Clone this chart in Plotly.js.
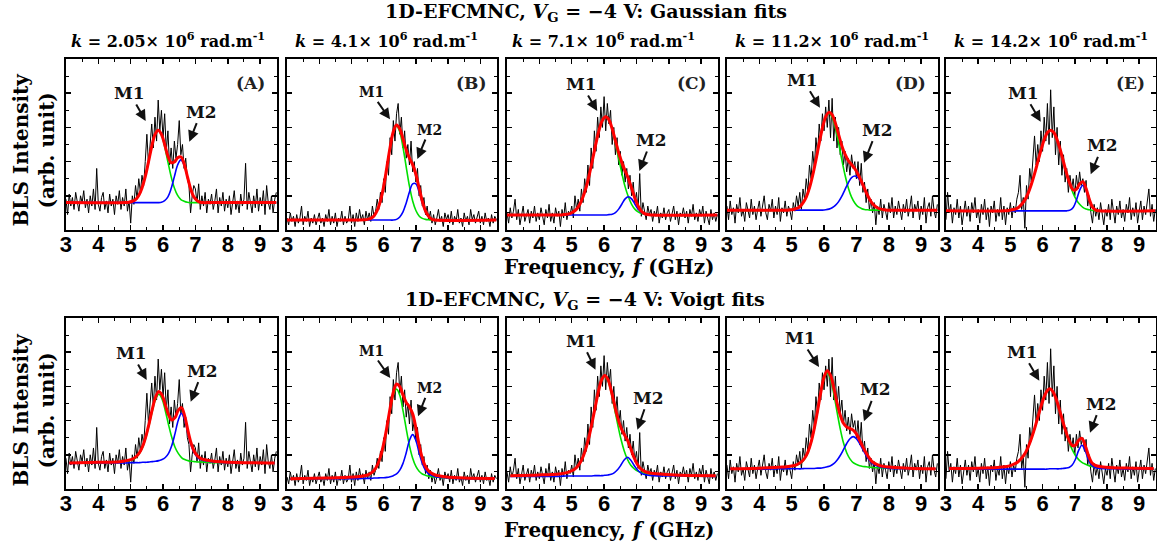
<!DOCTYPE html>
<html>
<head>
<meta charset="utf-8">
<script src="https://cdn.plot.ly/plotly-3.0.1.min.js"></script>
<style>html,body{margin:0;padding:0;background:#fff;}#chart{width:1157px;height:546px;}</style>
</head>
<body>
<div id="chart"></div>
<script>
// ---------------- DATA ----------------
const FREQ = [3,3.05,3.1,3.15,3.2,3.25,3.3,3.35,3.4,3.45,3.5,3.55,3.6,3.65,3.7,3.75,3.8,3.85,3.9,3.95,
4,4.05,4.1,4.15,4.2,4.25,4.3,4.35,4.4,4.45,4.5,4.55,4.6,4.65,4.7,4.75,4.8,4.85,4.9,4.95,
5,5.05,5.1,5.15,5.2,5.25,5.3,5.35,5.4,5.45,5.5,5.55,5.6,5.65,5.7,5.75,5.8,5.85,5.9,5.95,
6,6.05,6.1,6.15,6.2,6.25,6.3,6.35,6.4,6.45,6.5,6.55,6.6,6.65,6.7,6.75,6.8,6.85,6.9,6.95,
7,7.05,7.1,7.15,7.2,7.25,7.3,7.35,7.4,7.45,7.5,7.55,7.6,7.65,7.7,7.75,7.8,7.85,7.9,7.95,
8,8.05,8.1,8.15,8.2,8.25,8.3,8.35,8.4,8.45,8.5,8.55,8.6,8.65,8.7,8.75,8.8,8.85,8.9,8.95,
9,9.05,9.1,9.15,9.2,9.25,9.3,9.35,9.4,9.45,9.5];

const BLS_A = [0.9,0.45,1.05,0.7,0.95,0.6,1.1,0.75,0.55,1.0,0.8,1.15,0.65,0.9,0.5,1.0,0.7,1.2,0.6,1.8,
0.75,0.55,0.95,1.1,0.6,0.85,0.5,1.05,0.7,0.9,0.45,1.0,0.75,1.15,0.6,0.95,0.7,1.2,0.55,0.85,
0.2,1.0,0.75,1.3,0.9,1.5,1.1,1.6,1.3,2.0,
2.8,1.9,2.6,3.1,2.4,3.3,2.6,3.8,2.9,3.5,
2.7,3.4,2.3,2.9,1.9,2.4,1.8,2.6,2.1,2.5,
3.2,2.2,2.5,1.8,2.1,1.5,1.3,0.5,1.0,1.3,
1.2,0.8,1.35,0.6,1.0,0.7,1.1,0.5,0.9,0.75,
1.05,0.6,0.85,1.2,0.5,0.95,0.7,1.1,0.55,0.9,
0.65,1.0,0.45,0.9,1.15,0.6,0.85,0.5,1.05,0.7,
0.9,1.95,0.6,1.1,0.75,0.5,1.0,0.65,1.2,0.55,
0.95,0.7,1.15,0.45,1.3,0.8,0.6,1.0,0.5,0.9,1.1];

const BLS_B = [0.35,0.15,0.5,0.25,0.4,0.1,0.45,0.2,0.35,0.7,0.15,0.4,0.25,0.55,0.1,0.35,0.2,0.45,0.15,0.3,
0.5,0.2,0.35,0.1,0.45,0.25,0.6,0.15,0.4,0.2,0.5,0.1,0.35,0.25,0.55,0.15,0.4,0.2,0.3,0.7,
0.2,0.45,0.1,0.5,0.25,0.6,0.3,0.45,0.15,0.55,
0.3,0.5,0.25,0.7,0.4,0.55,0.9,0.6,1.1,0.8,
1.5,1.1,2.0,1.6,2.7,2.2,3.2,2.6,3.4,3.7,
2.8,3.3,2.4,2.9,2.1,2.5,1.9,2.6,1.7,2.0,
1.4,1.8,1.0,1.3,0.7,0.95,0.45,0.7,0.3,0.55,
0.2,0.45,0.15,0.35,0.6,0.25,0.4,0.1,0.5,0.3,
0.45,0.2,0.55,0.15,0.4,0.25,0.6,0.2,0.35,0.1,
0.5,0.25,0.4,0.15,0.6,0.3,0.45,0.2,0.35,0.55,
0.2,0.4,0.15,0.5,0.25,0.35,0.1,0.45,0.2,0.4,0.3];

const BLS_C = [0.5,0.2,0.65,0.35,0.55,0.9,0.3,0.6,0.15,0.5,0.7,0.25,0.45,0.6,0.2,0.55,0.35,0.7,0.25,0.5,
0.3,0.65,0.4,0.15,0.6,0.35,0.75,0.25,0.5,0.2,0.65,0.4,0.55,0.1,0.6,0.35,0.8,0.3,0.55,0.45,
0.7,0.35,1.0,0.6,0.9,0.55,1.2,0.8,1.5,1.1,
1.9,1.3,2.4,1.8,2.9,2.3,3.3,2.7,3.6,3.0,
3.9,2.9,3.7,3.1,3.5,2.5,3.0,2.2,2.7,1.9,
2.3,1.6,2.0,1.4,1.8,1.2,1.6,1.0,1.4,0.8,
1.1,0.6,1.65,0.4,0.8,0.5,0.3,0.7,0.45,0.6,
0.25,0.55,0.4,0.7,0.2,0.5,0.35,0.65,0.3,0.5,
0.6,0.25,0.45,0.7,0.3,0.55,0.15,0.5,0.4,0.65,
0.35,0.55,0.2,0.6,0.4,0.75,0.3,0.5,0.25,0.6,
0.4,0.7,0.2,0.55,0.35,0.15,0.6,0.3,0.5,0.25,0.45];

const BLS_D = [0.7,0.3,0.85,0.45,0.65,0.2,0.75,0.5,0.95,0.4,0.6,0.25,0.8,0.55,0.35,0.9,0.45,0.7,0.3,0.6,
0.85,0.4,0.65,1.0,0.5,0.3,0.75,0.55,0.9,0.35,0.7,0.45,0.95,0.25,0.65,0.5,0.85,0.4,0.7,0.55,
0.3,0.8,0.55,1.0,0.7,1.1,0.6,1.2,0.9,1.5,
1.1,1.9,1.5,2.3,1.8,2.7,2.2,3.1,2.6,3.4,
2.9,3.6,3.0,3.8,2.7,3.85,2.6,3.3,2.4,3.0,
2.2,2.6,1.9,2.3,1.7,2.1,1.6,2.2,1.8,2.0,
1.5,2.0,1.3,1.95,1.1,1.4,0.8,1.2,0.6,0.9,
0.5,0.8,0.15,0.7,0.45,0.9,0.35,0.75,0.55,0.3,
0.8,0.5,0.95,0.35,0.7,0.45,0.85,0.6,0.3,0.75,
0.5,0.9,0.4,0.65,1.0,0.35,0.75,0.55,0.85,0.3,
0.7,0.45,0.95,0.2,0.65,0.8,0.4,1.0,0.55,0.35,0.75];

const BLS_E = [0.3,1.1,0.5,0.75,0.2,0.65,0.45,0.9,0.35,0.7,0.15,0.6,0.85,0.4,0.7,0.25,0.8,0.5,0.95,0.35,
0.6,0.2,0.75,0.45,0.9,0.3,0.65,0.1,0.7,0.5,0.85,0.25,0.6,0.4,0.95,0.3,0.7,0.15,0.65,0.45,
0.8,0.35,0.7,0.5,0.9,1.1,1.6,0.6,0.95,0.05,
1.3,0.9,1.8,1.4,2.2,2.75,1.9,2.5,2.0,2.9,
2.3,3.3,2.6,3.7,2.5,4.1,2.7,3.6,2.2,3.0,
1.9,2.6,1.6,2.2,1.4,1.8,1.1,1.6,1.2,1.5,
1.0,1.6,1.2,1.7,1.3,1.5,1.1,1.45,0.7,1.0,
0.5,0.2,0.75,0.4,0.65,0.3,0.8,0.5,0.15,0.6,
0.4,0.75,0.3,0.9,0.5,0.2,0.7,0.45,0.85,0.35,
0.6,0.25,0.75,0.5,0.95,0.3,0.65,0.4,0.8,0.2,
0.55,0.85,0.3,0.7,0.45,0.9,1.2,0.4,0.75,0.25,0.6];

// Gaussian fits (top row)
const GA_X   = [3.0,4.85,4.95,5.05,5.15,5.25,5.35,5.45,5.55,5.65,5.75,5.85,5.95,6.05,6.15,6.25,6.35,6.45,6.55,6.65,6.75,6.85,6.95,7.05,7.15,7.25,7.35,9.5];
const GA_M1  = [0.80,0.80,0.81,0.84,0.89,1.01,1.23,1.56,1.99,2.44,2.79,2.92,2.79,2.44,1.99,1.56,1.23,1.01,0.89,0.84,0.81,0.80,0.80,0.80,0.80,0.80,0.80,0.80];
const GA_M2  = [0.80,0.80,0.80,0.80,0.80,0.80,0.80,0.80,0.80,0.80,0.80,0.80,0.81,0.86,0.97,1.21,1.56,1.90,2.05,1.90,1.56,1.21,0.97,0.86,0.81,0.80,0.80,0.80];
const GA_FIT = [0.80,0.80,0.81,0.84,0.89,1.01,1.23,1.56,1.99,2.44,2.79,2.92,2.80,2.50,2.16,1.97,1.99,2.11,2.14,1.94,1.57,1.21,0.97,0.86,0.81,0.80,0.80,0.80];

const GB_X   = [3.0,5.4,5.5,5.6,5.7,5.8,5.9,6.0,6.1,6.2,6.3,6.4,6.5,6.6,6.7,6.8,6.9,7.0,7.1,7.2,7.3,7.4,7.5,7.6,9.5];
const GB_M1  = [0.29,0.30,0.31,0.34,0.41,0.57,0.85,1.28,1.84,2.42,2.87,3.04,2.87,2.42,1.84,1.28,0.85,0.57,0.41,0.34,0.31,0.30,0.29,0.29,0.29];
const GB_M2  = [0.29,0.29,0.29,0.29,0.29,0.29,0.29,0.29,0.29,0.29,0.29,0.31,0.38,0.53,0.79,1.11,1.35,1.35,1.11,0.79,0.53,0.38,0.31,0.29,0.29];
const GB_FIT = [0.29,0.30,0.31,0.34,0.41,0.57,0.85,1.28,1.84,2.42,2.88,3.07,2.96,2.66,2.34,2.10,1.91,1.63,1.23,0.84,0.55,0.39,0.31,0.29,0.29];

const GC_X   = [3.0,4.65,4.75,4.85,4.95,5.05,5.15,5.25,5.35,5.45,5.55,5.65,5.75,5.85,5.95,6.05,6.15,6.25,6.35,6.45,6.55,6.65,6.75,6.85,6.95,7.05,7.15,7.25,7.35,7.45,9.5];
const GC_M1  = [0.44,0.44,0.45,0.46,0.48,0.53,0.61,0.75,0.97,1.26,1.65,2.09,2.54,2.94,3.21,3.31,3.21,2.94,2.54,2.09,1.65,1.26,0.97,0.75,0.61,0.53,0.48,0.46,0.45,0.44,0.44];
const GC_M2  = [0.44,0.44,0.44,0.44,0.44,0.44,0.44,0.44,0.44,0.44,0.44,0.44,0.44,0.44,0.44,0.44,0.45,0.46,0.51,0.61,0.76,0.91,0.97,0.91,0.76,0.61,0.51,0.46,0.45,0.44,0.44];
const GC_FIT = [0.44,0.44,0.45,0.46,0.48,0.53,0.61,0.75,0.97,1.26,1.65,2.09,2.54,2.94,3.21,3.31,3.22,2.96,2.61,2.26,1.97,1.73,1.50,1.22,0.93,0.70,0.55,0.48,0.45,0.44,0.44];

const GD_X   = [3.0,4.85,4.95,5.05,5.15,5.25,5.35,5.45,5.55,5.65,5.75,5.85,5.95,6.05,6.15,6.25,6.35,6.45,6.55,6.65,6.75,6.85,6.95,7.05,7.15,7.25,7.35,7.45,7.55,7.65,7.75,7.85,7.95,9.5];
const GD_M1  = [0.58,0.58,0.59,0.60,0.63,0.68,0.79,0.96,1.23,1.60,2.05,2.54,2.98,3.30,3.41,3.30,2.98,2.54,2.05,1.60,1.23,0.96,0.79,0.68,0.63,0.60,0.59,0.58,0.58,0.58,0.58,0.58,0.58,0.58];
const GD_M2  = [0.58,0.58,0.58,0.58,0.58,0.58,0.58,0.58,0.58,0.58,0.58,0.58,0.58,0.59,0.61,0.65,0.72,0.83,0.99,1.19,1.38,1.53,1.58,1.53,1.38,1.19,0.99,0.83,0.72,0.65,0.61,0.59,0.58,0.58];
const GD_FIT = [0.58,0.58,0.59,0.60,0.63,0.68,0.79,0.96,1.23,1.60,2.05,2.54,2.98,3.31,3.44,3.37,3.12,2.79,2.46,2.21,2.03,1.91,1.79,1.63,1.43,1.21,1.00,0.83,0.72,0.65,0.61,0.59,0.58,0.58];

const GE_X   = [3.0,4.85,4.95,5.05,5.15,5.25,5.35,5.45,5.55,5.65,5.75,5.85,5.95,6.05,6.15,6.25,6.35,6.45,6.55,6.65,6.75,6.85,6.95,7.05,7.15,7.25,7.35,7.45,7.55,7.65,7.75,9.5];
const GE_M1  = [0.56,0.56,0.57,0.59,0.61,0.66,0.75,0.88,1.07,1.33,1.64,1.99,2.34,2.64,2.85,2.92,2.85,2.64,2.34,1.99,1.64,1.33,1.07,0.88,0.75,0.66,0.61,0.59,0.57,0.56,0.56,0.56];
const GE_M2  = [0.56,0.56,0.56,0.56,0.56,0.56,0.56,0.56,0.56,0.56,0.56,0.56,0.56,0.56,0.56,0.56,0.56,0.56,0.56,0.56,0.56,0.58,0.66,0.87,1.16,1.31,1.16,0.87,0.66,0.58,0.56,0.56];
const GE_FIT = [0.56,0.56,0.57,0.59,0.61,0.66,0.75,0.88,1.07,1.33,1.64,1.99,2.34,2.64,2.85,2.92,2.85,2.64,2.34,1.99,1.64,1.35,1.17,1.19,1.35,1.41,1.21,0.90,0.67,0.58,0.56,0.56];

// Voigt fits (bottom row)
const VA_X   = [3.1,4.0,4.67,4.87,5.07,5.17,5.27,5.37,5.47,5.57,5.67,5.77,5.87,5.97,6.07,6.17,6.27,6.37,6.47,6.57,6.67,6.77,6.87,6.97,7.07,7.17,7.37,7.57,7.87,8.5,9.45];
const VA_M1  = [0.76,0.77,0.79,0.81,0.86,0.92,1.04,1.22,1.51,1.88,2.29,2.63,2.77,2.63,2.29,1.88,1.51,1.22,1.04,0.92,0.86,0.83,0.81,0.80,0.79,0.79,0.78,0.77,0.77,0.76,0.76];
const VA_M2  = [0.75,0.76,0.76,0.76,0.77,0.77,0.77,0.78,0.78,0.79,0.80,0.81,0.83,0.86,0.92,1.04,1.27,1.62,2.01,2.21,2.01,1.62,1.27,1.04,0.92,0.86,0.81,0.79,0.77,0.76,0.76];
const VA_FIT = [0.76,0.78,0.80,0.83,0.88,0.95,1.06,1.25,1.54,1.92,2.34,2.69,2.85,2.74,2.46,2.17,2.02,2.09,2.30,2.38,2.13,1.70,1.33,1.09,0.96,0.89,0.84,0.81,0.79,0.77,0.76];

const VB_X   = [3.1,4.2,4.9,5.2,5.4,5.5,5.6,5.7,5.8,5.9,6.0,6.1,6.2,6.3,6.4,6.5,6.6,6.7,6.8,6.9,7.0,7.1,7.2,7.3,7.4,7.6,7.9,8.5,9.45];
const VB_M1  = [0.30,0.31,0.33,0.35,0.37,0.40,0.44,0.52,0.66,0.90,1.27,1.76,2.29,2.74,2.92,2.74,2.29,1.76,1.27,0.90,0.66,0.52,0.44,0.40,0.37,0.35,0.33,0.31,0.30];
const VB_M2  = [0.29,0.30,0.30,0.30,0.31,0.31,0.31,0.32,0.32,0.33,0.33,0.34,0.36,0.39,0.44,0.55,0.75,1.06,1.42,1.59,1.42,1.06,0.75,0.55,0.44,0.36,0.33,0.30,0.30];
const VB_FIT = [0.30,0.32,0.34,0.36,0.39,0.41,0.46,0.54,0.69,0.94,1.32,1.81,2.36,2.83,3.07,2.99,2.75,2.53,2.40,2.20,1.79,1.29,0.90,0.65,0.52,0.41,0.36,0.32,0.31];

const VC_X   = [3.1,4.0,4.62,4.82,5.02,5.12,5.22,5.32,5.42,5.52,5.62,5.72,5.82,5.92,6.02,6.12,6.22,6.32,6.42,6.52,6.62,6.72,6.82,6.92,7.02,7.12,7.22,7.32,7.52,7.82,8.4,9.45];
const VC_M1  = [0.39,0.41,0.44,0.47,0.53,0.60,0.70,0.87,1.12,1.46,1.89,2.36,2.81,3.16,3.29,3.16,2.81,2.36,1.89,1.46,1.12,0.87,0.70,0.60,0.53,0.49,0.47,0.45,0.43,0.42,0.40,0.38];
const VC_M2  = [0.37,0.37,0.37,0.38,0.38,0.38,0.38,0.38,0.38,0.38,0.38,0.39,0.39,0.39,0.40,0.41,0.43,0.48,0.57,0.70,0.85,0.93,0.85,0.70,0.57,0.48,0.43,0.41,0.39,0.38,0.38,0.37];
const VC_FIT = [0.39,0.41,0.44,0.47,0.54,0.60,0.71,0.88,1.13,1.47,1.90,2.37,2.83,3.18,3.32,3.20,2.88,2.47,2.08,1.79,1.60,1.43,1.19,0.93,0.73,0.60,0.53,0.49,0.45,0.43,0.40,0.39];

const VD_X   = [3.1,4.0,4.7,4.9,5.1,5.2,5.3,5.4,5.5,5.6,5.7,5.8,5.9,6.0,6.1,6.2,6.3,6.4,6.5,6.6,6.7,6.8,6.9,7.0,7.1,7.2,7.3,7.4,7.5,7.7,8.0,8.6,9.45];
const VD_M1  = [0.59,0.60,0.63,0.65,0.68,0.72,0.77,0.88,1.06,1.35,1.76,2.26,2.79,3.22,3.39,3.22,2.79,2.26,1.76,1.35,1.06,0.88,0.77,0.72,0.68,0.66,0.65,0.64,0.63,0.62,0.61,0.60,0.59];
const VD_M2  = [0.58,0.58,0.59,0.59,0.59,0.59,0.59,0.60,0.60,0.60,0.60,0.61,0.61,0.63,0.65,0.68,0.74,0.84,0.98,1.15,1.33,1.47,1.53,1.47,1.33,1.15,0.98,0.84,0.74,0.65,0.61,0.59,0.59];
const VD_FIT = [0.59,0.61,0.64,0.66,0.69,0.73,0.79,0.90,1.08,1.37,1.78,2.29,2.83,3.27,3.46,3.32,2.96,2.52,2.16,1.92,1.81,1.77,1.72,1.61,1.43,1.23,1.05,0.90,0.79,0.69,0.64,0.61,0.59];

const VE_X   = [3.1,4.0,4.6,4.82,5.02,5.22,5.32,5.42,5.52,5.62,5.72,5.82,5.92,6.02,6.12,6.22,6.32,6.42,6.52,6.62,6.72,6.82,6.92,7.02,7.12,7.22,7.32,7.42,7.52,7.62,7.82,8.2,8.8,9.45];
const VE_M1  = [0.60,0.61,0.63,0.65,0.69,0.78,0.86,0.98,1.15,1.38,1.66,1.98,2.32,2.62,2.84,2.92,2.84,2.62,2.32,1.98,1.66,1.38,1.15,0.98,0.86,0.78,0.73,0.69,0.66,0.65,0.64,0.62,0.60,0.60];
const VE_M2  = [0.58,0.58,0.58,0.58,0.58,0.58,0.58,0.58,0.58,0.58,0.58,0.58,0.58,0.58,0.58,0.59,0.59,0.59,0.59,0.60,0.61,0.63,0.70,0.87,1.13,1.28,1.13,0.87,0.70,0.63,0.60,0.59,0.58,0.58];
const VE_FIT = [0.60,0.61,0.63,0.65,0.69,0.78,0.87,0.99,1.16,1.39,1.67,1.99,2.32,2.62,2.84,2.93,2.85,2.63,2.33,2.00,1.69,1.43,1.27,1.28,1.42,1.48,1.28,0.99,0.78,0.70,0.65,0.62,0.61,0.60];

const K_VALUES = ['2.05','4.1','7.1','11.2','14.2'];
const PANEL_TAGS = ['(A)','(B)','(C)','(D)','(E)'];
const X_TICKS = [3,4,5,6,7,8,9];

// ---------------- BUILD ----------------
const SPECTRA = [BLS_A, BLS_B, BLS_C, BLS_D, BLS_E];
const FITS = [
  [GA_X,GA_M1,GA_M2,GA_FIT],[GB_X,GB_M1,GB_M2,GB_FIT],[GC_X,GC_M1,GC_M2,GC_FIT],[GD_X,GD_M1,GD_M2,GD_FIT],[GE_X,GE_M1,GE_M2,GE_FIT],
  [VA_X,VA_M1,VA_M2,VA_FIT],[VB_X,VB_M1,VB_M2,VB_FIT],[VC_X,VC_M1,VC_M2,VC_FIT],[VD_X,VD_M1,VD_M2,VD_FIT],[VE_X,VE_M1,VE_M2,VE_FIT]
];

const XDOM = [[0.0570,0.2394],[0.2481,0.4296],[0.4382,0.6206],[0.6283,0.8107],[0.8176,0.9991]];
const YDOM = [[0.5788,0.8919],[0.1044,0.4176]];
const SERIF = 'DejaVu Serif, Liberation Serif, serif';
const SANS = 'Liberation Sans, Arial, sans-serif';

const traces = [];
const layout = {
  width: 1157, height: 546,
  margin: {l:0, r:0, t:0, b:0},
  paper_bgcolor: '#fff', plot_bgcolor: '#fff',
  showlegend: false,
  annotations: []
};

for (let p = 0; p < 10; p++) {
  const row = p < 5 ? 0 : 1;
  const col = p % 5;
  const n = p + 1;
  const xa = 'x' + (n === 1 ? '' : n), ya = 'y' + (n === 1 ? '' : n);
  const xkey = 'xaxis' + (n === 1 ? '' : n), ykey = 'yaxis' + (n === 1 ? '' : n);
  layout[xkey] = {
    domain: XDOM[col], anchor: ya, range: [3, 9.52],
    tickmode: 'array', tickvals: X_TICKS, ticks: 'inside', ticklen: 5, tickwidth: 1.5, tickcolor: '#000',
    minor: {tickmode: 'linear', tick0: 3, dtick: 0.5, ticks: 'inside', ticklen: 3, tickwidth: 1, tickcolor: '#000'},
    mirror: 'allticks', showline: true, linewidth: 2, linecolor: '#000',
    showgrid: false, zeroline: false, ticklabelstandoff: -6,
    tickfont: {family: SANS, size: 22, color: '#000', weight: 700}
  };
  layout[ykey] = {
    domain: YDOM[row], anchor: xa, range: [0, 5],
    tickmode: 'linear', tick0: 0, dtick: 1, ticks: 'inside', ticklen: 5, tickwidth: 1.5, tickcolor: '#000',
    minor: {tickmode: 'linear', tick0: 0, dtick: 0.5, ticks: 'inside', ticklen: 3, tickwidth: 1, tickcolor: '#000'},
    mirror: 'allticks', showline: true, linewidth: 2, linecolor: '#000',
    showgrid: false, zeroline: false, showticklabels: false
  };
  const f = FITS[p];
  traces.push({x: FREQ, y: SPECTRA[col], xaxis: xa, yaxis: ya, mode: 'lines', line: {color: '#000', width: 1}, hoverinfo: 'skip'});
  traces.push({x: f[0], y: f[1], xaxis: xa, yaxis: ya, mode: 'lines', line: {color: '#00e000', width: 1.6, shape: 'spline'}, hoverinfo: 'skip'});
  traces.push({x: f[0], y: f[2], xaxis: xa, yaxis: ya, mode: 'lines', line: {color: '#0000ff', width: 1.6, shape: 'spline'}, hoverinfo: 'skip'});
  traces.push({x: f[0], y: f[3], xaxis: xa, yaxis: ya, mode: 'lines', line: {color: '#ff0000', width: 3, shape: 'spline'}, hoverinfo: 'skip'});

  if (row === 0) {
    layout.annotations.push({
      xref: xa + ' domain', yref: ya + ' domain', x: 0.955, y: 0.857, xanchor: 'right', yanchor: 'middle',
      text: '<b>' + PANEL_TAGS[col] + '</b>', showarrow: false, font: {family: SERIF, size: 17, color: '#222'}
    });
  }
}

// panel-level text
const ann = layout.annotations;
const titleFont = {family: SERIF, size: 19, color: '#000'};
ann.push({xref:'paper', yref:'paper', x:0.5065, y:0.978, xanchor:'center', yanchor:'middle', showarrow:false,
  text:'<b>1D-EFCMNC, <i>V</i><sub>G</sub> = −4 V: Gaussian fits</b>', font:titleFont});
ann.push({xref:'paper', yref:'paper', x:0.5055, y:0.4505, xanchor:'center', yanchor:'middle', showarrow:false,
  text:'<b>1D-EFCMNC, <i>V</i><sub>G</sub> = −4 V: Voigt fits</b>', font:titleFont});
const KX = [0.1448, 0.3341, 0.522, 0.7191, 0.9084];
for (let i = 0; i < 5; i++) {
  ann.push({xref:'paper', yref:'paper', x:KX[i], y:0.9267, xanchor:'center', yanchor:'middle', showarrow:false,
    text:'<b><i>k</i> = ' + K_VALUES[i] + '× 10<sup>6</sup> rad.m<sup>-1</sup></b>', font:{family:SERIF, size:16, color:'#000'}});
}
[0.511, 0.0293].forEach(y => ann.push({xref:'paper', yref:'paper', x:0.5264, y:y, xanchor:'center', yanchor:'middle', showarrow:false,
  text:'<b>Frequency, <i>f</i> (GHz)</b>', font:{family:SERIF, size:20, color:'#000'}}));
[0.7253, 0.2491].forEach(y => ann.push({xref:'paper', yref:'paper', x:0.029, y:y, xanchor:'center', yanchor:'middle', showarrow:false,
  textangle:-90, text:'<b>BLS Intensity<br>(arb. unit)</b>', font:{family:SERIF, size:20, color:'#000'}}));

// mode labels with arrows: [tip x paper, tip y paper, ax px, ay px, text, size]
const MODE_MARKS = [
  [0.1259,0.7784,-16,-28,'M1',17],[0.1636,0.7405,12,-30,'M2',17],
  [0.3371,0.7815,-19,-27,'M1',14],[0.3607,0.7088,12,-29,'M2',14],
  [0.5162,0.7967,-16,-27,'M1',17],[0.5526,0.6868,12,-31,'M2',17],
  [0.7087,0.8027,-17,-28,'M1',17],[0.7468,0.7020,13,-33,'M2',17],
  [0.8995,0.7771,-17,-29,'M1',17],[0.9427,0.6808,12,-29,'M2',17],
  [0.1268,0.3040,-15,-27,'M1',17],[0.1648,0.2643,12,-31,'M2',17],
  [0.3373,0.3077,-19,-27,'M1',14],[0.3613,0.2375,11,-28,'M2',14],
  [0.5147,0.3229,-14,-29,'M1',17],[0.5509,0.2130,11,-32,'M2',17],
  [0.7079,0.3278,-19,-29,'M1',17],[0.7467,0.2284,12,-32,'M2',17],
  [0.8983,0.3027,-17,-29,'M1',17],[0.9421,0.2075,11,-29,'M2',17]
];
MODE_MARKS.forEach(m => ann.push({
  xref:'paper', yref:'paper', x:m[0], y:m[1], ax:m[2], ay:m[3], text:'<b>' + m[4] + '</b>',
  showarrow:true, arrowhead:2, arrowsize:1.1, arrowwidth:2, arrowcolor:'#111',
  font:{family:SERIF, size:m[5], color:'#111'}
}));

Plotly.newPlot('chart', traces, layout, {staticPlot: true, displayModeBar: false});
</script>
</body>
</html>
